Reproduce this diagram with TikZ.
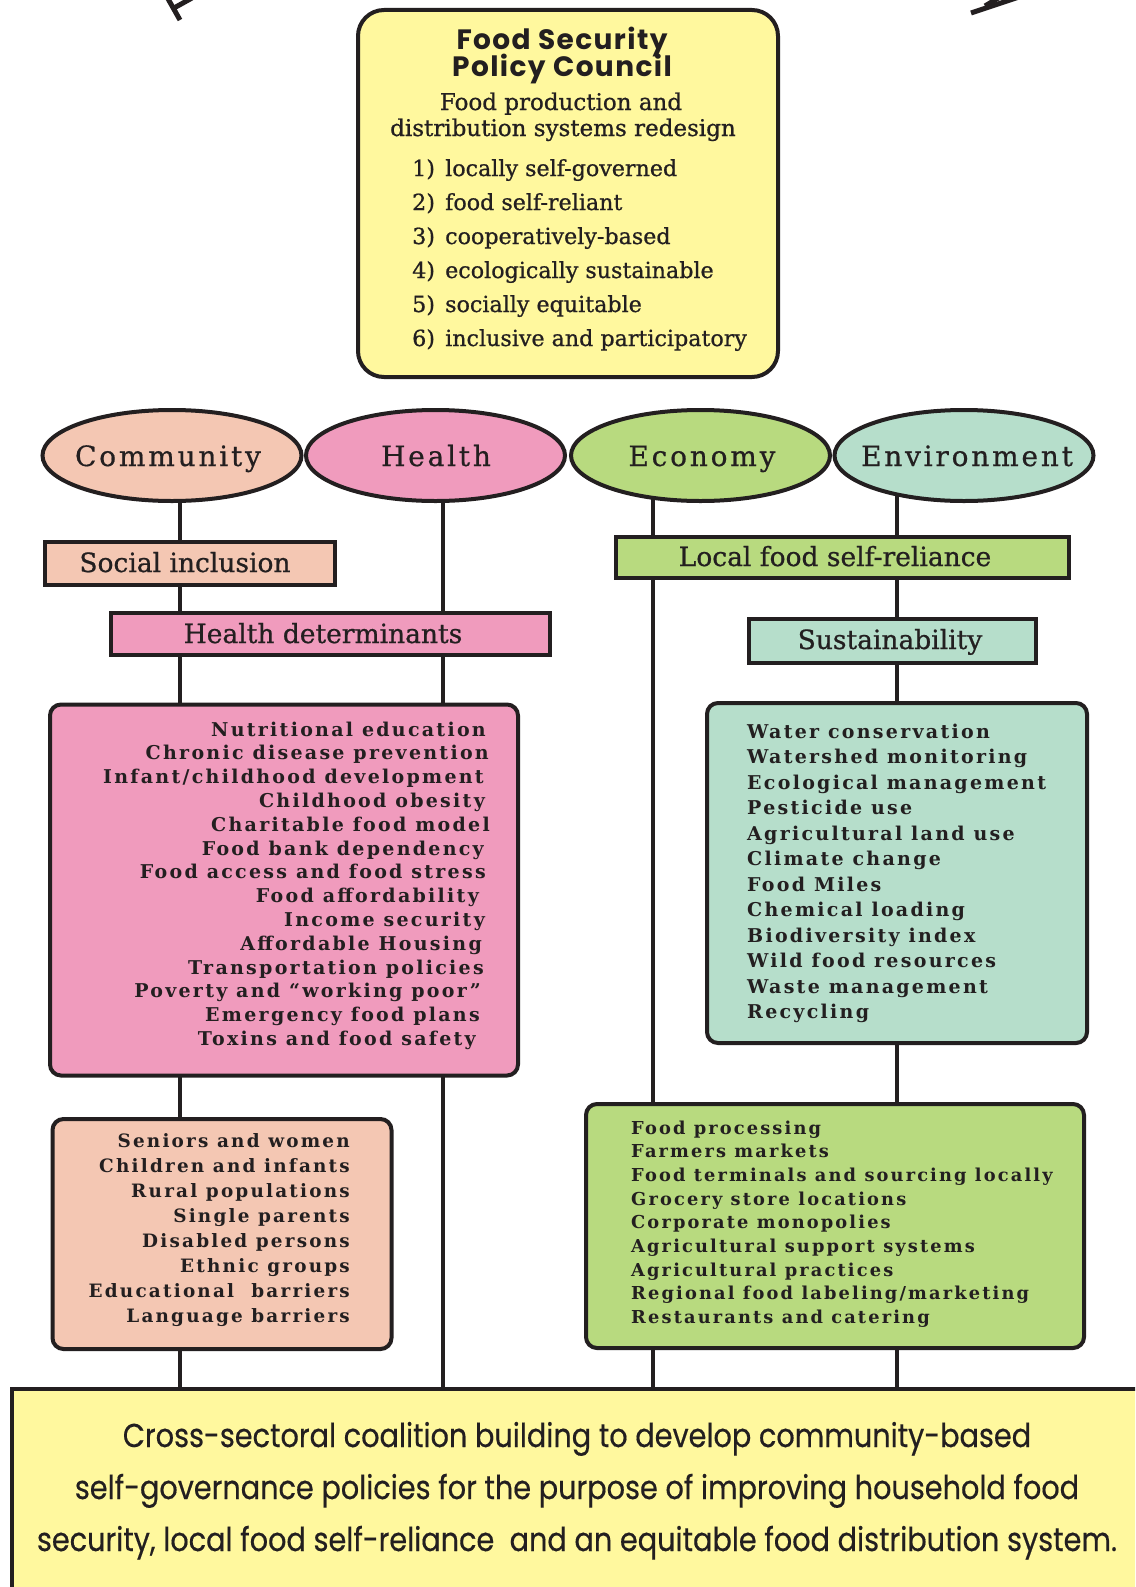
\documentclass[tikz,border=0pt]{standalone}
\usepackage{fontspec}
\usetikzlibrary{shapes.geometric,backgrounds}
\setmainfont{DejaVu Serif}[FakeBold=0.8]
\newfontfamily\gothic{Poppins}[LetterSpace=5]
\newfontfamily\gothicnarrow{Poppins}[FakeStretch=0.87,FakeBold=0.4]
\newfontfamily\spaced{DejaVu Serif}[LetterSpace=10,FakeBold=0.6]
\newfontfamily\listfont{DejaVu Serif}[LetterSpace=12]
\definecolor{ink}{HTML}{231F20}
\definecolor{yellowc}{HTML}{FFF89E}
\definecolor{peachc}{HTML}{F4C7B3}
\definecolor{pinkc}{HTML}{F09BBD}
\definecolor{greenc}{HTML}{B8DA7F}
\definecolor{mintc}{HTML}{B6DECB}
\tikzset{
  frame/.style={draw=ink, line width=4pt, inner sep=0pt},
  ell/.style={frame, ellipse, minimum width=259pt, minimum height=91pt},
  elltext/.style={inner sep=0pt, anchor=base, text=ink, font=\spaced\fontsize{28}{30}\selectfont},
  headbox/.style={frame, rectangle},
  headtext/.style={inner sep=0pt, anchor=base, text=ink, font=\fontsize{26.5}{28}\selectfont},
  listbox/.style={frame, rounded corners=11pt},
  conn/.style={draw=ink, line width=4pt},
  item/.style={inner sep=0pt, text=ink, font=\listfont\bfseries\fontsize{19}{20}\selectfont},
  pol/.style={inner sep=0pt, text=ink, font=\fontsize{22.2}{24}\selectfont},
  frag/.style={draw=ink, line width=5pt},
  bot/.style={inner sep=0pt, anchor=base, text=ink, font=\gothicnarrow\fontsize{33}{36}\selectfont},
}
\begin{document}
\begin{tikzpicture}[x=1pt,y=-1pt]
\useasboundingbox (0,0) rectangle (1135,1587);
\clip (0,0) rectangle (1135,1587);

% fragments of the cut-off title
\draw[frag] (167,-3) -- (180,20);
\draw[frag] (174,8) -- (192,-2);
\draw[frag] (971,13) -- (1022,-4);
\draw[frag] (985,6) -- (1000,-3);

% top box
\node[listbox, fill=yellowc, rounded corners=26pt, minimum width=420pt, minimum height=367pt] (top) at (568,193.5) {};
\node[inner sep=0pt, anchor=base, text=ink, font=\gothic\bfseries\fontsize{28}{30}\selectfont] (t1) at (562,50) {Food Security};
\node[inner sep=0pt, anchor=base, text=ink, font=\gothic\bfseries\fontsize{28}{30}\selectfont] (t2) at (562,77) {Policy Council};
\node[pol, anchor=base, font=\fontsize{23}{24}\selectfont] (s1) at (561,110) {Food production and};
\node[pol, anchor=base, font=\fontsize{23}{24}\selectfont] (s2) at (563,136) {distribution systems redesign};
\foreach \t [count=\i] in {locally self-governed, food self-reliant, cooperatively-based, ecologically sustainable, socially equitable, inclusive and participatory}{
  \node[pol, anchor=base west] (n\i) at (412,{176+(\i-1)*34}) {\i)};
  \node[pol, anchor=base west] (l\i) at (445,{176+(\i-1)*34}) {\t};
}

% ellipses
\node[ell, fill=peachc] (comm) at (172,455.5) {};
\node[ell, fill=pinkc] (hlth) at (435.5,455.5) {};
\node[ell, fill=greenc] (econ) at (700.5,455.5) {};
\node[ell, fill=mintc] (envr) at (964,455.5) {};
\node[elltext] (commt) at (168,466) {Community};
\node[elltext] (hltht) at (436,466) {Health};
\node[elltext] (econt) at (702,466) {Economy};
\node[elltext] (envrt) at (967,466) {Environment};

% heading boxes
\node[headbox, fill=peachc, minimum width=290pt, minimum height=43pt] (sinc) at (190,563.5) {};
\node[headtext] (sinct) at (185,572) {Social inclusion};
\node[headbox, fill=pinkc, minimum width=439pt, minimum height=41.5pt] (hdet) at (330.5,634) {};
\node[headtext] (hdett) at (323,643) {Health determinants};
\node[headbox, fill=greenc, minimum width=453pt, minimum height=41pt] (lfood) at (842,557) {};
\node[headtext] (lfoodt) at (835,566) {Local food self-reliance};
\node[headbox, fill=mintc, minimum width=287pt, minimum height=44pt] (sust) at (892.5,641) {};
\node[headtext] (sustt) at (890,649) {Sustainability};

% list boxes
\node[listbox, fill=pinkc, minimum width=468pt, minimum height=371pt] (pinkbox) at (284,890) {};
\node[listbox, fill=mintc, minimum width=380pt, minimum height=340pt] (envbox) at (897,873) {};
\node[listbox, fill=peachc, minimum width=339pt, minimum height=230pt] (commbox) at (222,1234) {};
\node[listbox, fill=greenc, minimum width=498pt, minimum height=244pt] (econbox) at (835,1226) {};

\foreach \t/\dx [count=\i] in {Nutritional education/0, Chronic disease prevention/3, {Infant/childhood development}/-2, Childhood obesity/-1, Charitable food model/4, Food bank dependency/-2, Food access and food stress/0, Food affordability/-7, Income security/-1, Affordable Housing/-4, Transportation policies/-2, Poverty and “working poor”/-5, Emergency food plans/-6, Toxins and food safety/-10}{
  \node[item, anchor=base east] (p\i) at ({486+\dx},{736+(\i-1)*23.8}) {\t};
}
\foreach \t [count=\i] in {Water conservation, Watershed monitoring, Ecological management, Pesticide use, Agricultural land use, Climate change, Food Miles, Chemical loading, Biodiversity index, Wild food resources, Waste management, Recycling}{
  \node[item, anchor=base west] (v\i) at (747,{738+(\i-1)*25.5}) {\t};
}
\foreach \t [count=\i] in {Food processing, Farmers markets, Food terminals and sourcing locally, Grocery store locations, Corporate monopolies, Agricultural support systems, Agricultural practices, {Regional food labeling/marketing}, Restaurants and catering}{
  \node[item, anchor=base west, font=\listfont\bfseries\fontsize{17.8}{20}\selectfont] (e\i) at (631,{1134+(\i-1)*23.7}) {\t};
}
\foreach \t [count=\i] in {Seniors and women, Children and infants, Rural populations, Single parents, Disabled persons, Ethnic groups, Educational\ \ barriers, Language barriers}{
  \node[item, anchor=base east, font=\listfont\bfseries\fontsize{18.4}{20}\selectfont] (c\i) at (350,{1147+(\i-1)*25}) {\t};
}

% bottom box
\node[frame, fill=yellowc, minimum width=1150pt, minimum height=233pt] (bottom) at (587,1505.5) {};
\node[bot] (b1) at (577,1447) {Cross-sectoral coalition building to develop community-based};
\node[bot] (b2) at (577,1499) {self-governance policies for the purpose of improving household food};
\node[bot] (b3) at (577,1551) {security, local food self-reliance\ \ and an equitable food distribution system.};

% connectors
\coordinate (xc) at (180,0);
\coordinate (xh) at (442.5,0);
\coordinate (xe) at (653,0);
\coordinate (xv) at (897,0);
\begin{pgfonlayer}{background}
\draw[conn] (comm.center -| xc) -- (sinc.center -| xc);
\draw[conn] (sinc.center -| xc) -- (hdet.center -| xc);
\draw[conn] (hdet.center -| xc) -- (pinkbox.center -| xc);
\draw[conn] (pinkbox.center -| xc) -- (commbox.center -| xc);
\draw[conn] (commbox.center -| xc) -- (bottom.center -| xc);
\draw[conn] (hlth.center -| xh) -- (hdet.center -| xh);
\draw[conn] (hdet.center -| xh) -- (pinkbox.center -| xh);
\draw[conn] (pinkbox.center -| xh) -- (bottom.center -| xh);
\draw[conn] (econ.center -| xe) -- (lfood.center -| xe);
\draw[conn] (lfood.center -| xe) -- (econbox.center -| xe);
\draw[conn] (econbox.center -| xe) -- (bottom.center -| xe);
\draw[conn] (envr.center -| xv) -- (lfood.center -| xv);
\draw[conn] (lfood.center -| xv) -- (sust.center -| xv);
\draw[conn] (sust.center -| xv) -- (envbox.center -| xv);
\draw[conn] (envbox.center -| xv) -- (econbox.center -| xv);
\draw[conn] (econbox.center -| xv) -- (bottom.center -| xv);
\end{pgfonlayer}
\end{tikzpicture}
\end{document}
